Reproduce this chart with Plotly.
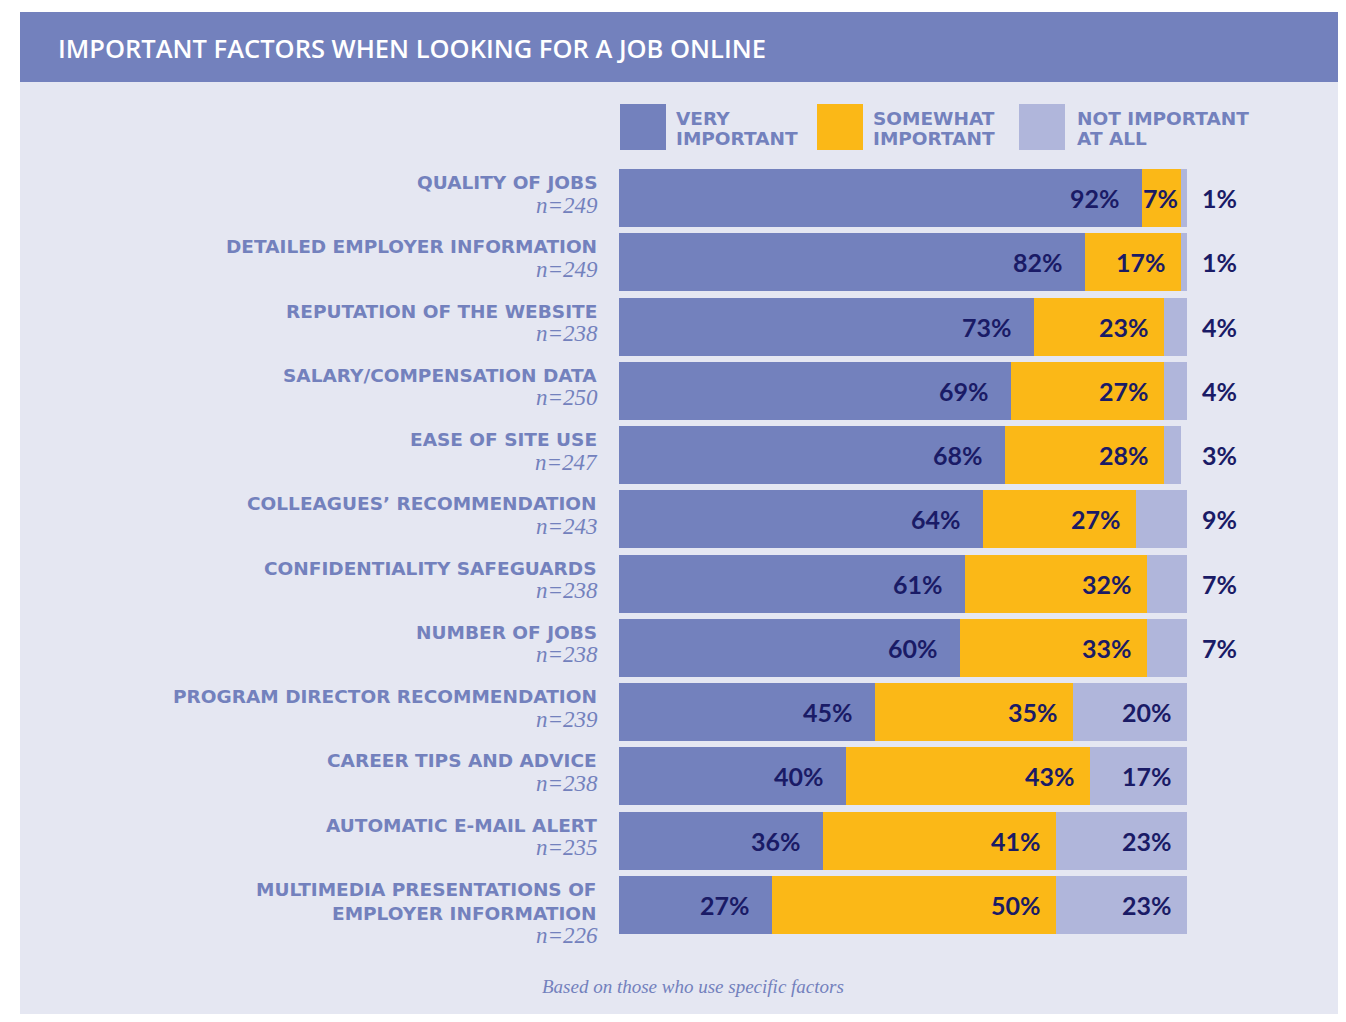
import plotly.graph_objects as go

# ---------------- data ----------------
categories = [
    "QUALITY OF JOBS",
    "DETAILED EMPLOYER INFORMATION",
    "REPUTATION OF THE WEBSITE",
    "SALARY/COMPENSATION DATA",
    "EASE OF SITE USE",
    "COLLEAGUES\u2019 RECOMMENDATION",
    "CONFIDENTIALITY SAFEGUARDS",
    "NUMBER OF JOBS",
    "PROGRAM DIRECTOR RECOMMENDATION",
    "CAREER TIPS AND ADVICE",
    "AUTOMATIC E-MAIL ALERT",
    "MULTIMEDIA PRESENTATIONS OF<br>EMPLOYER INFORMATION",
]
sample_sizes = [249, 249, 238, 250, 247, 243, 238, 238, 239, 238, 235, 226]
very_important = [92, 82, 73, 69, 68, 64, 61, 60, 45, 40, 36, 27]
somewhat_important = [7, 17, 23, 27, 28, 27, 32, 33, 35, 43, 41, 50]
not_important = [1, 1, 4, 4, 3, 9, 7, 7, 20, 17, 23, 23]
series_names = ["VERY<br>IMPORTANT", "SOMEWHAT<br>IMPORTANT", "NOT IMPORTANT<br>AT ALL"]
title_text = "IMPORTANT FACTORS WHEN LOOKING FOR A JOB ONLINE"
footnote = "Based on those who use specific factors"

# ---------------- style ----------------
OFF = 8                      # page body margin
W, H = 1338, 1006
PLOT_L, PLOT_R, PLOT_T, PLOT_B = 619, 1187, 166, 937   # page pixels
ML, MR = PLOT_L - OFF, W - (PLOT_R - OFF)
MT, MB = PLOT_T - OFF, H - (PLOT_B - OFF)
PW, PH = W - ML - MR, H - MT - MB
C_VERY = "#7381BD"
C_SOME = "#FBB817"
C_NOT = "#B0B6DB"
C_BG = "#E5E7F2"
C_NAVY = "#1A1B66"
C_LABEL = "#7381BD"
SANS_B = "DejaVu Sans"
NUM_FONT = "Lato"
SERIF = "Liberation Serif"

def px_x(px):
    return (px - PLOT_L) / PW

def px_y(py):
    return (PLOT_B - py) / PH

ykeys = [c.replace("<br>", " ") for c in categories]

fig = go.Figure()
for name, vals, col in zip(series_names, [very_important, somewhat_important, not_important],
                           [C_VERY, C_SOME, C_NOT]):
    fig.add_trace(go.Bar(
        y=ykeys, x=vals, orientation="h", name=name.replace("<br>", " "),
        marker=dict(color=col, line=dict(width=0)), showlegend=False, hoverinfo="x+y",
    ))

annotations = []
shapes = []

# background frame + header
shapes.append(dict(type="rect", xref="paper", yref="paper", layer="below",
                   x0=px_x(20), x1=px_x(1360), y0=px_y(1040), y1=px_y(12),
                   fillcolor=C_BG, line=dict(width=0)))
shapes.append(dict(type="rect", xref="paper", yref="paper", layer="below",
                   x0=px_x(20), x1=px_x(1360), y0=px_y(82), y1=px_y(12),
                   fillcolor=C_VERY, line=dict(width=0)))
annotations.append(dict(text=title_text, xref="paper", yref="paper",
                        x=px_x(56), y=px_y(48), xanchor="left", yanchor="middle",
                        showarrow=False,
                        font=dict(family="Open Sans", size=25.5, color="white", weight=600)))

# legend (custom)
leg_box_x = [620, 817, 1019]
leg_text_x = [674, 871, 1075]
for i, (name, col) in enumerate(zip(series_names, [C_VERY, C_SOME, C_NOT])):
    shapes.append(dict(type="rect", xref="paper", yref="paper",
                       x0=px_x(leg_box_x[i]), x1=px_x(leg_box_x[i] + 46),
                       y0=px_y(150), y1=px_y(104), fillcolor=col, line=dict(width=0)))
    for k, line in enumerate(name.split("<br>")):
        annotations.append(dict(text=line, xref="paper", yref="paper",
                                x=px_x(leg_text_x[i]), y=px_y(118 + 20.5 * k),
                                xanchor="left", yanchor="middle", showarrow=False,
                                font=dict(family=SANS_B, size=18.5, color=C_LABEL, weight="bold")))

# category labels
for key, cat, n in zip(ykeys, categories, sample_sizes):
    lines = cat.split("<br>")
    for k, line in enumerate(lines):
        annotations.append(dict(text=line, xref="paper", yref="y", x=px_x(599), y=key,
                                xanchor="right", yanchor="middle", yshift=15.5 - 24 * k,
                                showarrow=False,
                                font=dict(family=SANS_B, size=18.5, color=C_LABEL, weight="bold")))
    annotations.append(dict(text=f"n={n}", xref="paper", yref="y", x=px_x(600), y=key,
                            xanchor="right", yanchor="middle",
                            yshift=15 - 24 * (len(lines) - 1) - 22, showarrow=False,
                            font=dict(family=SERIF, size=23, color=C_LABEL, style="italic")))

# value labels
numfont = dict(family=NUM_FONT, size=25, color=C_NAVY, weight="bold")
for key, v, s, nimp in zip(ykeys, very_important, somewhat_important, not_important):
    annotations.append(dict(text=f"{v}%", x=v, y=key, xref="x", yref="y", xanchor="right",
                            yanchor="middle", xshift=-20, showarrow=False, font=numfont))
    annotations.append(dict(text=f"{s}%", x=v + s, y=key, xref="x", yref="y", xanchor="right",
                            yanchor="middle", xshift=(-1 if s < 10 else -13), showarrow=False,
                            font=numfont))
    if nimp < 10:
        annotations.append(dict(text=f"{nimp}%", x=100, y=key, xref="x", yref="y",
                                xanchor="left", yanchor="middle", xshift=13, showarrow=False,
                                font=numfont))
    else:
        annotations.append(dict(text=f"{nimp}%", x=v + s + nimp, y=key, xref="x", yref="y",
                                xanchor="right", yanchor="middle", xshift=-13, showarrow=False,
                                font=numfont))

annotations.append(dict(text=footnote, xref="paper", yref="paper", x=px_x(693), y=px_y(986),
                        xanchor="center", yanchor="middle", showarrow=False,
                        font=dict(family=SERIF, size=19, color=C_LABEL, style="italic")))

fig.update_layout(
    width=W, height=H,
    margin=dict(l=ML, r=MR, t=MT, b=MB, pad=0),
    paper_bgcolor="white", plot_bgcolor="rgba(0,0,0,0)",
    barmode="stack", bargap=0.1,
    xaxis=dict(range=[0, 100], visible=False, fixedrange=True),
    yaxis=dict(categoryorder="array", categoryarray=ykeys, autorange="reversed",
               visible=False, fixedrange=True),
    shapes=shapes, annotations=annotations,
)

fig.write_html("out.html")
